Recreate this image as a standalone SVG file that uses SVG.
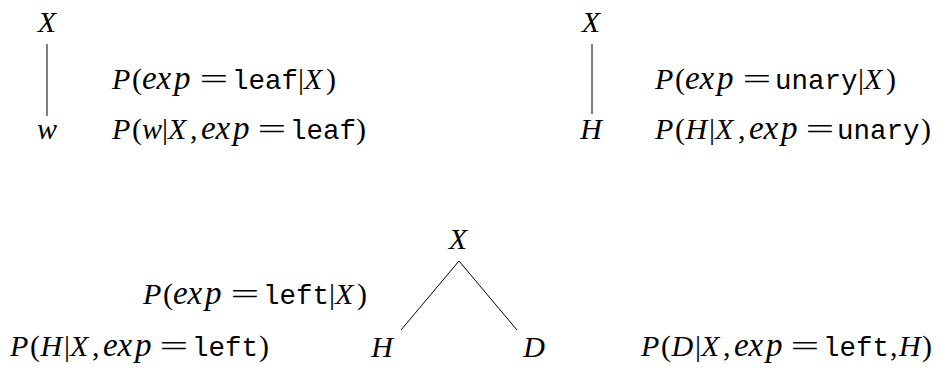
<svg xmlns="http://www.w3.org/2000/svg" width="939" height="371" viewBox="0 0 939 371">
<style>
text{font-family:"Liberation Serif","Times New Roman",serif;font-size:30px;fill:#000}
.i{font-style:italic}
.e{font-style:italic;font-size:33px}
.m{font-family:"Liberation Mono","Courier New",monospace;font-size:27.5px;font-style:normal}
.n{font-style:italic;text-anchor:middle}
line{stroke:#000;stroke-width:1}
</style>
<rect width="939" height="371" fill="#fff"/>
<g id="connectors">
<line x1="47" y1="44" x2="47" y2="116"/>
<line x1="592" y1="44" x2="592" y2="114"/>
<line x1="459" y1="261" x2="401" y2="330"/>
<line x1="459" y1="261" x2="517" y2="330"/>
</g>
<g id="tree1-X"><text class="n" x="47" y="32">X</text></g>
<g id="tree1-w"><text class="n" x="47" y="139">w</text></g>
<g id="tree2-X"><text class="n" x="591" y="32">X</text></g>
<g id="tree2-H"><text class="n" x="591" y="139">H</text></g>
<g id="tree3-X"><text class="n" x="458" y="249">X</text></g>
<g id="tree3-H"><text class="n" x="382" y="357">H</text></g>
<g id="tree3-D"><text class="n" x="534" y="357">D</text></g>
<g id="labels">
<text y="89"><tspan class="i" x="112">P</tspan><tspan x="132">(</tspan><tspan class="e" x="142 156.5 174">exp</tspan><tspan class="m" x="232">leaf</tspan><tspan x="298">|</tspan><tspan class="i" x="304">X</tspan><tspan x="326">)</tspan></text>
<text transform="translate(199.5,89) scale(1.7,1)">=</text>
<text y="139"><tspan class="i" x="112">P</tspan><tspan x="132">(</tspan><tspan class="i" x="142">w</tspan><tspan x="162">|</tspan><tspan class="i" x="168">X</tspan><tspan x="190">,</tspan><tspan class="e" x="201 215.5 233">exp</tspan><tspan class="m" x="290">leaf</tspan><tspan x="356">)</tspan></text>
<text transform="translate(257.5,139) scale(1.7,1)">=</text>
<text y="89"><tspan class="i" x="655">P</tspan><tspan x="675">(</tspan><tspan class="e" x="685 699.5 717">exp</tspan><tspan class="m" x="775">unary</tspan><tspan x="858">|</tspan><tspan class="i" x="864">X</tspan><tspan x="886">)</tspan></text>
<text transform="translate(742.5,89) scale(1.7,1)">=</text>
<text y="139"><tspan class="i" x="655">P</tspan><tspan x="675">(</tspan><tspan class="i" x="685.5">H</tspan><tspan x="709">|</tspan><tspan class="i" x="715">X</tspan><tspan x="738">,</tspan><tspan class="e" x="749 763.5 781">exp</tspan><tspan class="m" x="837">unary</tspan><tspan x="921">)</tspan></text>
<text transform="translate(805.5,139) scale(1.7,1)">=</text>
<text y="304"><tspan class="i" x="143">P</tspan><tspan x="163">(</tspan><tspan class="e" x="173 187.5 205">exp</tspan><tspan class="m" x="263">left</tspan><tspan x="329">|</tspan><tspan class="i" x="335">X</tspan><tspan x="357">)</tspan></text>
<text transform="translate(230.5,304) scale(1.7,1)">=</text>
<text y="356"><tspan class="i" x="10">P</tspan><tspan x="30">(</tspan><tspan class="i" x="40.5">H</tspan><tspan x="64">|</tspan><tspan class="i" x="70">X</tspan><tspan x="92">,</tspan><tspan class="e" x="103 117.5 135">exp</tspan><tspan class="m" x="192">left</tspan><tspan x="259">)</tspan></text>
<text transform="translate(159.5,356) scale(1.7,1)">=</text>
<text y="356"><tspan class="i" x="641">P</tspan><tspan x="661">(</tspan><tspan class="i" x="671.5">D</tspan><tspan x="695">|</tspan><tspan class="i" x="701">X</tspan><tspan x="723">,</tspan><tspan class="e" x="734 748.5 766">exp</tspan><tspan class="m" x="823">left</tspan><tspan x="890">,</tspan><tspan class="i" x="899">H</tspan><tspan x="922">)</tspan></text>
<text transform="translate(790.5,356) scale(1.7,1)">=</text>
</g>
</svg>
